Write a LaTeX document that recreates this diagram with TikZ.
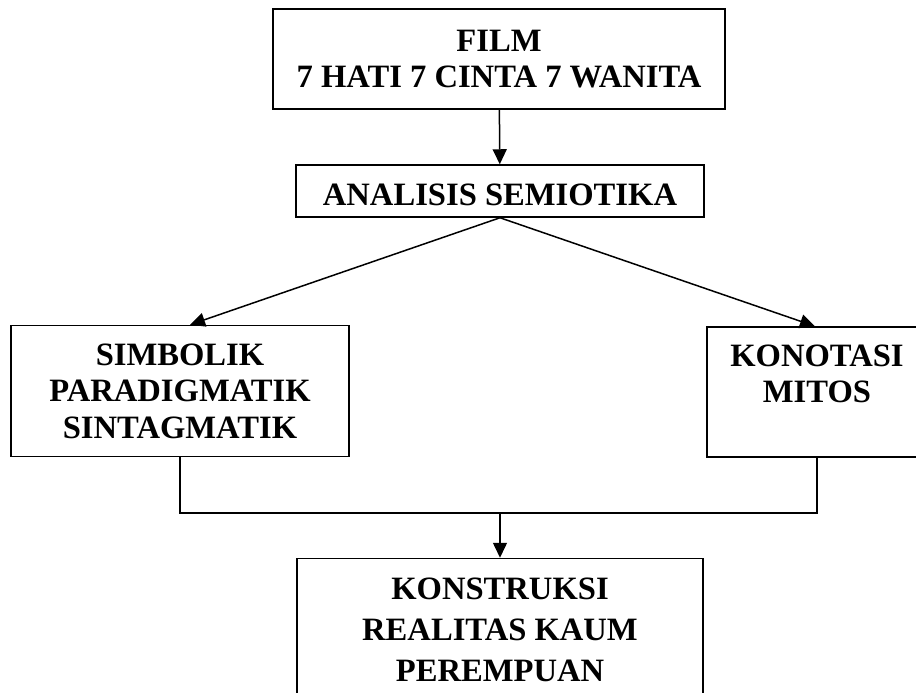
\documentclass[tikz,border=0pt]{standalone}
\usepackage{fontspec}
\setmainfont{Liberation Serif}
\usetikzlibrary{arrows, arrows.meta}

\begin{document}
\begin{tikzpicture}[x=0.5pt, y=-0.5pt,
  box/.style={draw, line width=0.75pt, inner sep=0pt, align=center,
    font=\bfseries\fontsize{16.3}{18.3}\selectfont},
  link/.style={line width=0.75pt, -{Triangle[length=7.5pt, width=7pt]}}]

\useasboundingbox (0,0) rectangle (916,692);
\clip (0,0) rectangle (916,692);

%boxes
\node[box, minimum width=226pt, minimum height=50pt] (film) at (499,59) {FILM\\7 HATI 7 CINTA 7 WANITA};
\node[box, minimum width=204pt, minimum height=26pt, text height=14.4pt] (semiotika) at (500,191) {ANALISIS SEMIOTIKA};

\node[box, minimum width=169pt, minimum height=65.5pt] (simbolik) at (180,391) {SIMBOLIK\\PARADIGMATIK\\SINTAGMATIK};
\node[box, minimum width=110pt, minimum height=65pt] (konotasi) at (817,392) {KONOTASI\\MITOS\\\mbox{}};

\node[box, minimum width=203pt, minimum height=71.5pt,
  font=\bfseries\fontsize{16.3}{20.5}\selectfont] (konstruksi) at (500,630) {KONSTRUKSI\\REALITAS KAUM\\PEREMPUAN};

%arrows
\draw[link] (film) -- (semiotika);
\draw[link] (semiotika.south) -- ([xshift=5pt]simbolik.north);
\draw[link] (semiotika.south) -- ([xshift=-1pt]konotasi.north);

\coordinate (gabung) at (500,513);
\draw[line width=0.75pt] (simbolik.south) |- (gabung) -| (konotasi.south);
\draw[link] (gabung) -- (konstruksi);

\end{tikzpicture}
\end{document}
